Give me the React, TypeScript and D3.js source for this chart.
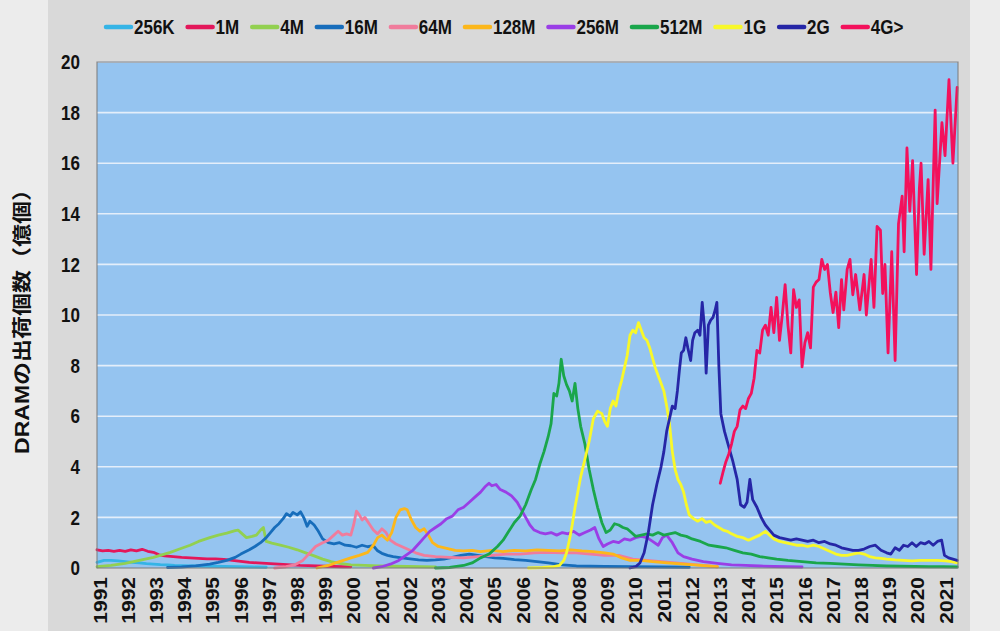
import { useEffect, useRef } from "react";
import * as d3 from "d3";

// [year, shipments in 億個]
type Point = [number, number];

const SERIES_NAMES = ["256K", "1M", "4M", "16M", "64M", "128M", "256M", "512M", "1G", "2G", "4G>"];
const SERIES_COLORS = [
  "#35b4e6", "#e3175a", "#92d050", "#176dbb", "#f07c9c", "#fcb71b",
  "#9a3ee6", "#1aa64b", "#f8f82a", "#2626a6", "#f3115c",
];

const S256K: Point[] = [
  [1991.0, 0.22], [1991.25, 0.3], [1991.5, 0.3], [1991.75, 0.28], [1992.0, 0.25], [1992.25, 0.22],
  [1992.5, 0.2], [1992.75, 0.17], [1993.0, 0.15], [1993.25, 0.13], [1993.5, 0.12], [1993.75, 0.1],
  [1994.0, 0.09], [1994.5, 0.08], [1995.0, 0.07], [1995.5, 0.06], [1996.0, 0.05], [1996.5, 0.04], [1997.0, 0.03],
];
const S1M: Point[] = [
  [1991.0, 0.72], [1991.2, 0.68], [1991.4, 0.7], [1991.6, 0.66], [1991.8, 0.7], [1992.0, 0.66],
  [1992.2, 0.72], [1992.4, 0.68], [1992.6, 0.74], [1992.8, 0.66], [1993.0, 0.62], [1993.2, 0.52],
  [1993.4, 0.48], [1993.6, 0.46], [1993.8, 0.44], [1994.0, 0.42], [1994.3, 0.4], [1994.6, 0.38],
  [1994.9, 0.36], [1995.2, 0.36], [1995.5, 0.34], [1995.8, 0.3], [1996.1, 0.26], [1996.4, 0.22],
  [1996.7, 0.2], [1997.0, 0.18], [1997.3, 0.16], [1997.6, 0.14], [1997.9, 0.12], [1998.2, 0.1],
  [1998.5, 0.09], [1998.8, 0.08], [1999.1, 0.07], [1999.4, 0.06], [1999.7, 0.05], [2000.0, 0.05],
];
const S4M: Point[] = [
  [1991.0, 0.05], [1991.5, 0.1], [1992.0, 0.18], [1992.5, 0.3], [1993.0, 0.42], [1993.3, 0.52],
  [1993.6, 0.62], [1994.0, 0.78], [1994.3, 0.9], [1994.6, 1.05], [1995.0, 1.2], [1995.3, 1.3],
  [1995.6, 1.38], [1995.9, 1.48], [1996.0, 1.5], [1996.15, 1.35], [1996.3, 1.2], [1996.5, 1.25],
  [1996.65, 1.3], [1996.8, 1.5], [1996.9, 1.6], [1997.0, 1.05], [1997.2, 0.98], [1997.5, 0.9],
  [1997.8, 0.82], [1998.1, 0.72], [1998.4, 0.6], [1998.7, 0.48], [1999.0, 0.35], [1999.3, 0.25],
  [1999.6, 0.18], [2000.0, 0.12], [2000.5, 0.1], [2001.0, 0.08], [2001.5, 0.07], [2002.0, 0.06],
  [2002.5, 0.05], [2003.0, 0.04],
];
const S16M: Point[] = [
  [1993.5, 0.02], [1994.0, 0.04], [1994.5, 0.08], [1995.0, 0.15], [1995.3, 0.22], [1995.6, 0.3],
  [1995.9, 0.42], [1996.1, 0.55], [1996.4, 0.72], [1996.6, 0.85], [1996.8, 1.0], [1997.0, 1.2],
  [1997.15, 1.4], [1997.3, 1.6], [1997.45, 1.75], [1997.6, 1.95], [1997.72, 2.15], [1997.85, 2.05],
  [1997.95, 2.2], [1998.1, 2.1], [1998.22, 2.22], [1998.35, 1.95], [1998.45, 1.65], [1998.55, 1.85],
  [1998.7, 1.7], [1998.85, 1.45], [1999.0, 1.15], [1999.2, 1.0], [1999.4, 0.95], [1999.6, 1.0],
  [1999.8, 0.9], [2000.0, 0.88], [2000.2, 0.82], [2000.4, 0.9], [2000.6, 0.84], [2000.8, 0.88],
  [2000.95, 0.68], [2001.1, 0.58], [2001.3, 0.5], [2001.5, 0.45], [2001.8, 0.4], [2002.1, 0.36],
  [2002.4, 0.32], [2002.7, 0.3], [2003.0, 0.32], [2003.3, 0.35], [2003.6, 0.42], [2003.9, 0.5],
  [2004.2, 0.55], [2004.5, 0.5], [2004.8, 0.45], [2005.1, 0.4], [2005.4, 0.38], [2005.8, 0.33],
  [2006.2, 0.3], [2006.6, 0.25], [2007.0, 0.2], [2007.5, 0.12], [2008.0, 0.08], [2009.0, 0.06],
  [2010.0, 0.05], [2011.0, 0.04], [2012.0, 0.03],
];
const S64M: Point[] = [
  [1997.3, 0.0], [1997.7, 0.05], [1998.0, 0.12], [1998.3, 0.3], [1998.55, 0.6], [1998.75, 0.85],
  [1999.0, 1.0], [1999.2, 1.1], [1999.4, 1.3], [1999.55, 1.45], [1999.7, 1.3], [1999.85, 1.35],
  [2000.0, 1.3], [2000.1, 1.7], [2000.2, 2.25], [2000.3, 2.1], [2000.4, 1.9], [2000.5, 2.0],
  [2000.65, 1.75], [2000.8, 1.5], [2000.95, 1.35], [2001.1, 1.55], [2001.25, 1.4], [2001.4, 1.1],
  [2001.6, 0.95], [2001.8, 0.85], [2002.0, 0.75], [2002.3, 0.6], [2002.6, 0.5], [2003.0, 0.45],
  [2003.5, 0.42], [2004.0, 0.4], [2004.5, 0.45], [2005.0, 0.5], [2005.5, 0.55], [2006.0, 0.55],
  [2006.5, 0.6], [2007.0, 0.62], [2007.5, 0.6], [2008.0, 0.6], [2008.5, 0.55], [2009.0, 0.5],
  [2009.5, 0.5], [2010.0, 0.35], [2010.5, 0.3], [2011.0, 0.25], [2011.5, 0.2], [2012.0, 0.15],
  [2012.5, 0.1], [2013.0, 0.05],
];
const S128M: Point[] = [
  [1998.8, 0.0], [1999.2, 0.1], [1999.6, 0.25], [2000.0, 0.4], [2000.3, 0.5], [2000.6, 0.62],
  [2000.8, 0.9], [2000.95, 1.2], [2001.1, 1.3], [2001.3, 1.1], [2001.45, 1.4], [2001.6, 2.0],
  [2001.75, 2.3], [2001.9, 2.35], [2002.0, 2.3], [2002.15, 1.9], [2002.3, 1.6], [2002.45, 1.45],
  [2002.6, 1.55], [2002.75, 1.3], [2002.9, 1.0], [2003.1, 0.85], [2003.4, 0.78], [2003.7, 0.7],
  [2004.0, 0.68], [2004.3, 0.7], [2004.6, 0.65], [2005.0, 0.7], [2005.4, 0.65], [2005.8, 0.7],
  [2006.2, 0.68], [2006.6, 0.72], [2007.0, 0.7], [2007.4, 0.68], [2007.8, 0.72], [2008.2, 0.68],
  [2008.6, 0.65], [2009.0, 0.6], [2009.3, 0.55], [2009.6, 0.4], [2009.9, 0.3], [2010.3, 0.3],
  [2010.7, 0.25], [2011.2, 0.2], [2011.8, 0.15], [2012.4, 0.1], [2013.0, 0.05],
];
const S256M: Point[] = [
  [2000.8, 0.0], [2001.1, 0.05], [2001.4, 0.15], [2001.7, 0.3], [2001.95, 0.5], [2002.2, 0.7],
  [2002.4, 0.95], [2002.6, 1.2], [2002.8, 1.45], [2003.0, 1.6], [2003.2, 1.75], [2003.4, 1.95],
  [2003.6, 2.05], [2003.8, 2.3], [2004.0, 2.4], [2004.2, 2.6], [2004.4, 2.8], [2004.6, 3.0],
  [2004.75, 3.2], [2004.9, 3.35], [2005.0, 3.25], [2005.15, 3.3], [2005.3, 3.1], [2005.5, 3.0],
  [2005.7, 2.85], [2005.9, 2.6], [2006.05, 2.3], [2006.2, 2.0], [2006.35, 1.7], [2006.5, 1.5],
  [2006.7, 1.4], [2006.9, 1.35], [2007.1, 1.4], [2007.3, 1.3], [2007.5, 1.4], [2007.7, 1.35],
  [2007.9, 1.45], [2008.1, 1.3], [2008.3, 1.4], [2008.5, 1.5], [2008.65, 1.6], [2008.8, 1.15],
  [2008.95, 0.85], [2009.1, 0.95], [2009.3, 1.05], [2009.5, 1.0], [2009.7, 1.15], [2009.9, 1.1],
  [2010.1, 1.2], [2010.3, 1.25], [2010.5, 1.2], [2010.7, 1.05], [2010.9, 0.9], [2011.05, 1.2],
  [2011.2, 1.3], [2011.4, 1.0], [2011.6, 0.6], [2011.8, 0.45], [2012.1, 0.35], [2012.5, 0.25],
  [2013.0, 0.18], [2013.5, 0.12], [2014.0, 0.1], [2014.5, 0.08], [2015.0, 0.06], [2015.5, 0.05],
  [2016.0, 0.04],
];
const S512M: Point[] = [
  [2003.0, 0.0], [2003.5, 0.02], [2004.0, 0.1], [2004.3, 0.2], [2004.6, 0.4], [2004.9, 0.55],
  [2005.2, 0.85], [2005.4, 1.1], [2005.6, 1.45], [2005.8, 1.8], [2006.0, 2.05], [2006.2, 2.5],
  [2006.4, 3.1], [2006.55, 3.5], [2006.7, 4.1], [2006.85, 4.6], [2007.0, 5.2], [2007.1, 5.7],
  [2007.2, 6.9], [2007.3, 6.8], [2007.38, 7.3], [2007.46, 8.25], [2007.55, 7.6], [2007.65, 7.25],
  [2007.75, 7.0], [2007.85, 6.6], [2007.95, 7.3], [2008.05, 6.3], [2008.15, 5.6], [2008.3, 4.9],
  [2008.45, 3.9], [2008.6, 3.1], [2008.75, 2.4], [2008.9, 1.8], [2009.05, 1.4], [2009.2, 1.5],
  [2009.35, 1.75], [2009.5, 1.7], [2009.65, 1.6], [2009.8, 1.55], [2009.95, 1.4], [2010.1, 1.25],
  [2010.3, 1.3], [2010.5, 1.35], [2010.7, 1.3], [2010.9, 1.4], [2011.1, 1.3], [2011.3, 1.35],
  [2011.5, 1.4], [2011.7, 1.3], [2011.9, 1.25], [2012.1, 1.15], [2012.4, 1.05], [2012.7, 0.9],
  [2013.0, 0.85], [2013.3, 0.8], [2013.6, 0.7], [2013.9, 0.6], [2014.2, 0.55], [2014.5, 0.45],
  [2014.8, 0.4], [2015.1, 0.35], [2015.5, 0.3], [2016.0, 0.25], [2016.5, 0.2], [2017.0, 0.18],
  [2017.5, 0.15], [2018.0, 0.12], [2018.5, 0.1], [2019.0, 0.08], [2019.5, 0.07], [2020.0, 0.06],
  [2020.5, 0.05], [2021.0, 0.05], [2021.5, 0.04],
];
const S1G: Point[] = [
  [2006.3, 0.0], [2006.8, 0.02], [2007.2, 0.05], [2007.4, 0.1], [2007.55, 0.3], [2007.65, 0.6],
  [2007.75, 1.1], [2007.85, 1.7], [2007.95, 2.4], [2008.05, 3.0], [2008.15, 3.6], [2008.3, 4.3],
  [2008.45, 5.0], [2008.6, 5.9], [2008.75, 6.2], [2008.9, 6.1], [2009.0, 5.8], [2009.1, 5.6],
  [2009.2, 6.3], [2009.3, 6.6], [2009.4, 6.4], [2009.5, 7.0], [2009.6, 7.4], [2009.7, 7.9],
  [2009.8, 8.4], [2009.9, 9.2], [2010.0, 9.4], [2010.1, 9.3], [2010.2, 9.7], [2010.3, 9.4],
  [2010.4, 9.1], [2010.5, 9.0], [2010.6, 8.7], [2010.7, 8.3], [2010.8, 7.9], [2010.9, 7.6],
  [2011.0, 7.3], [2011.1, 7.0], [2011.2, 6.4], [2011.3, 5.7], [2011.4, 4.6], [2011.5, 3.9],
  [2011.6, 3.5], [2011.7, 3.3], [2011.8, 3.0], [2011.9, 2.5], [2012.0, 2.1], [2012.15, 1.95],
  [2012.3, 1.85], [2012.45, 1.95], [2012.6, 1.8], [2012.75, 1.85], [2012.9, 1.7], [2013.05, 1.6],
  [2013.2, 1.5], [2013.35, 1.45], [2013.5, 1.35], [2013.7, 1.25], [2013.9, 1.2], [2014.1, 1.1],
  [2014.3, 1.2], [2014.5, 1.3], [2014.7, 1.45], [2014.85, 1.3], [2015.0, 1.15], [2015.2, 1.05],
  [2015.4, 1.0], [2015.6, 0.95], [2015.8, 0.9], [2016.0, 0.9], [2016.2, 0.85], [2016.4, 0.9],
  [2016.6, 0.85], [2016.8, 0.75], [2017.0, 0.65], [2017.2, 0.55], [2017.4, 0.5], [2017.6, 0.5],
  [2017.8, 0.55], [2018.0, 0.6], [2018.2, 0.55], [2018.4, 0.45], [2018.6, 0.4], [2018.8, 0.38],
  [2019.0, 0.35], [2019.3, 0.32], [2019.6, 0.3], [2019.9, 0.28], [2020.2, 0.3], [2020.5, 0.3],
  [2020.8, 0.3], [2021.1, 0.28], [2021.3, 0.25], [2021.5, 0.2],
];
const S2G: Point[] = [
  [2009.9, 0.0], [2010.1, 0.05], [2010.25, 0.2], [2010.4, 0.6], [2010.55, 1.4], [2010.7, 2.5],
  [2010.85, 3.3], [2011.0, 4.0], [2011.1, 4.6], [2011.2, 5.4], [2011.3, 5.9], [2011.4, 6.4],
  [2011.5, 6.3], [2011.58, 7.0], [2011.65, 7.8], [2011.72, 8.5], [2011.8, 8.6], [2011.88, 9.1],
  [2011.95, 8.7], [2012.05, 8.2], [2012.12, 9.0], [2012.2, 9.3], [2012.3, 9.4], [2012.38, 9.2],
  [2012.46, 10.5], [2012.54, 9.5], [2012.6, 7.7], [2012.68, 9.6], [2012.76, 9.8], [2012.84, 9.9],
  [2012.92, 10.2], [2012.98, 10.5], [2013.05, 8.0], [2013.12, 6.1], [2013.25, 5.4], [2013.4, 4.8],
  [2013.55, 4.2], [2013.7, 3.5], [2013.82, 2.5], [2013.95, 2.4], [2014.05, 2.6], [2014.15, 3.5],
  [2014.25, 2.7], [2014.4, 2.4], [2014.55, 2.0], [2014.7, 1.7], [2014.85, 1.5], [2015.0, 1.3],
  [2015.2, 1.2], [2015.4, 1.15], [2015.6, 1.1], [2015.8, 1.15], [2016.0, 1.1], [2016.2, 1.05],
  [2016.4, 1.1], [2016.6, 1.0], [2016.8, 1.05], [2017.0, 0.95], [2017.2, 0.9], [2017.4, 0.8],
  [2017.6, 0.75], [2017.8, 0.7], [2018.0, 0.7], [2018.2, 0.75], [2018.4, 0.85], [2018.6, 0.9],
  [2018.8, 0.7], [2019.0, 0.6], [2019.15, 0.55], [2019.3, 0.8], [2019.45, 0.7], [2019.6, 0.9],
  [2019.75, 0.85], [2019.9, 1.0], [2020.05, 0.85], [2020.2, 1.0], [2020.35, 0.95], [2020.5, 1.05],
  [2020.65, 0.9], [2020.8, 1.05], [2020.95, 1.1], [2021.05, 0.5], [2021.2, 0.4], [2021.35, 0.35],
  [2021.5, 0.3],
];
const S4G: Point[] = [
  [2013.1, 3.35], [2013.2, 3.8], [2013.3, 4.2], [2013.4, 4.5], [2013.5, 4.9], [2013.6, 5.4],
  [2013.7, 5.6], [2013.8, 6.25], [2013.9, 6.4], [2014.0, 6.3], [2014.1, 6.7], [2014.2, 6.9],
  [2014.3, 7.5], [2014.4, 8.6], [2014.5, 8.5], [2014.6, 9.4], [2014.7, 9.6], [2014.8, 9.2],
  [2014.9, 10.3], [2015.0, 9.3], [2015.1, 10.7], [2015.2, 9.0], [2015.3, 10.0], [2015.4, 11.2],
  [2015.5, 9.6], [2015.6, 8.5], [2015.7, 11.0], [2015.8, 10.3], [2015.9, 10.6], [2016.0, 7.95],
  [2016.1, 8.9], [2016.2, 9.3], [2016.3, 8.7], [2016.4, 11.1], [2016.5, 11.3], [2016.6, 11.4],
  [2016.7, 12.2], [2016.8, 11.8], [2016.9, 12.0], [2017.0, 10.9], [2017.1, 10.1], [2017.2, 10.9],
  [2017.3, 9.5], [2017.4, 11.4], [2017.48, 10.2], [2017.6, 11.8], [2017.7, 12.2], [2017.8, 10.8],
  [2017.9, 11.6], [2018.05, 10.2], [2018.2, 11.6], [2018.28, 10.0], [2018.45, 12.2], [2018.55, 10.3],
  [2018.66, 13.5], [2018.78, 13.35], [2018.86, 10.85], [2018.94, 12.0], [2019.05, 8.5], [2019.18, 12.5],
  [2019.3, 8.2], [2019.42, 13.6], [2019.55, 14.7], [2019.62, 12.5], [2019.72, 16.6], [2019.82, 14.1],
  [2019.92, 16.1], [2020.06, 11.6], [2020.16, 15.0], [2020.22, 16.0], [2020.33, 12.4], [2020.47, 15.35],
  [2020.57, 11.8], [2020.72, 18.1], [2020.79, 14.4], [2020.96, 17.6], [2021.07, 16.3], [2021.21, 19.3],
  [2021.35, 16.0], [2021.5, 19.0],
];

const SERIES_VALUES = [S256K, S1M, S4M, S16M, S64M, S128M, S256M, S512M, S1G, S2G, S4G];

const YEAR_TICKS = [
  1991, 1992, 1993, 1994, 1995, 1996, 1997, 1998, 1999, 2000, 2001, 2002, 2003, 2004, 2005, 2006,
  2007, 2008, 2009, 2010, 2011, 2012, 2013, 2014, 2015, 2016, 2017, 2018, 2019, 2020, 2021,
];
const VALUE_TICKS = [0, 2, 4, 6, 8, 10, 12, 14, 16, 18, 20];
const Y_TITLE = "DRAMの出荷個数（億個）";

const WIDTH = 1000;
const HEIGHT = 631;
const FONT = "Arial, 'Liberation Sans', 'Noto Sans CJK JP', sans-serif";
const SQUEEZE = 0.85;

export default function App() {
  const svgRef = useRef<SVGSVGElement | null>(null);

  useEffect(() => {
    if (!svgRef.current) return;
    const svg = d3.select(svgRef.current);
    svg.selectAll("*").remove();

    const plot = { left: 97, right: 958, top: 62, bottom: 568 };
    const x = d3.scaleLinear().domain([1991, 2021.53]).range([plot.left, plot.right]);
    const y = d3.scaleLinear().domain([0, 20]).range([plot.bottom, plot.top]);

    svg.append("rect").attr("width", WIDTH).attr("height", HEIGHT).attr("fill", "#ececec");
    svg.append("rect").attr("x", 48).attr("width", 922).attr("height", HEIGHT).attr("fill", "#d9d9d9");

    svg
      .append("rect")
      .attr("x", plot.left)
      .attr("y", plot.top)
      .attr("width", plot.right - plot.left)
      .attr("height", plot.bottom - plot.top)
      .attr("fill", "#95c4f0");

    // horizontal grid
    svg
      .append("g")
      .selectAll("line")
      .data(VALUE_TICKS.filter((v) => v > 0))
      .join("line")
      .attr("x1", plot.left)
      .attr("x2", plot.right)
      .attr("y1", (v) => y(v))
      .attr("y2", (v) => y(v))
      .attr("stroke", "#e4eefa")
      .attr("stroke-width", 1.6);

    const line = d3
      .line<Point>()
      .x((d) => x(d[0]))
      .y((d) => y(d[1]));

    svg
      .append("g")
      .selectAll("path")
      .data(SERIES_VALUES)
      .join("path")
      .attr("d", (d) => line(d))
      .attr("fill", "none")
      .attr("stroke", (_, i) => SERIES_COLORS[i])
      .attr("stroke-width", 2.8)
      .attr("stroke-linejoin", "round")
      .attr("stroke-linecap", "round");

    svg
      .append("rect")
      .attr("x", plot.left)
      .attr("y", plot.top)
      .attr("width", plot.right - plot.left)
      .attr("height", plot.bottom - plot.top)
      .attr("fill", "none")
      .attr("stroke", "#7a7a7a")
      .attr("stroke-width", 1);

    // y tick labels
    svg
      .append("g")
      .selectAll("text")
      .data(VALUE_TICKS)
      .join("text")
      .attr("transform", (v) => `translate(80,${y(v)}) scale(${SQUEEZE},1)`)
      .attr("dy", "0.36em")
      .attr("text-anchor", "end")
      .attr("font-family", FONT)
      .attr("font-weight", "bold")
      .attr("font-size", 20)
      .attr("fill", "#111")
      .text((v) => v);

    // x tick labels, vertical
    svg
      .append("g")
      .selectAll("text")
      .data(YEAR_TICKS)
      .join("text")
      .attr("transform", (yr) => `translate(${x(yr + 1 / 24) + 2},577) scale(${SQUEEZE},1) rotate(-90)`)
      .attr("dy", "0.36em")
      .attr("text-anchor", "end")
      .attr("font-family", FONT)
      .attr("font-weight", "bold")
      .attr("font-size", 21)
      .attr("fill", "#111")
      .text((yr) => yr);

    svg
      .append("text")
      .attr("transform", `translate(22,316) scale(${SQUEEZE},1) rotate(-90)`)
      .attr("dy", "0.36em")
      .attr("text-anchor", "middle")
      .attr("font-family", FONT)
      .attr("font-weight", "bold")
      .attr("font-size", 23)
      .attr("fill", "#111")
      .text(Y_TITLE);

    // legend
    const legend = svg.append("g");
    let lx = 104;
    SERIES_NAMES.forEach((name, i) => {
      legend
        .append("line")
        .attr("x1", lx + 2)
        .attr("x2", lx + 27)
        .attr("y1", 27)
        .attr("y2", 27)
        .attr("stroke", SERIES_COLORS[i])
        .attr("stroke-width", 4.5)
        .attr("stroke-linecap", "round");
      const label = legend
        .append("text")
        .attr("transform", `translate(${lx + 30},27) scale(${SQUEEZE},1)`)
        .attr("dy", "0.36em")
        .attr("font-family", FONT)
        .attr("font-weight", "bold")
        .attr("font-size", 20)
        .attr("fill", "#111")
        .text(name);
      const w = (label.node() as SVGTextElement).getComputedTextLength() * SQUEEZE;
      lx += 30 + w + 11;
    });
  }, []);

  return (
    <svg
      ref={svgRef}
      width={WIDTH}
      height={HEIGHT}
      style={{ position: "absolute", left: 0, top: 0 }}
      role="img"
      aria-label="DRAM shipments by density"
    />
  );
}
